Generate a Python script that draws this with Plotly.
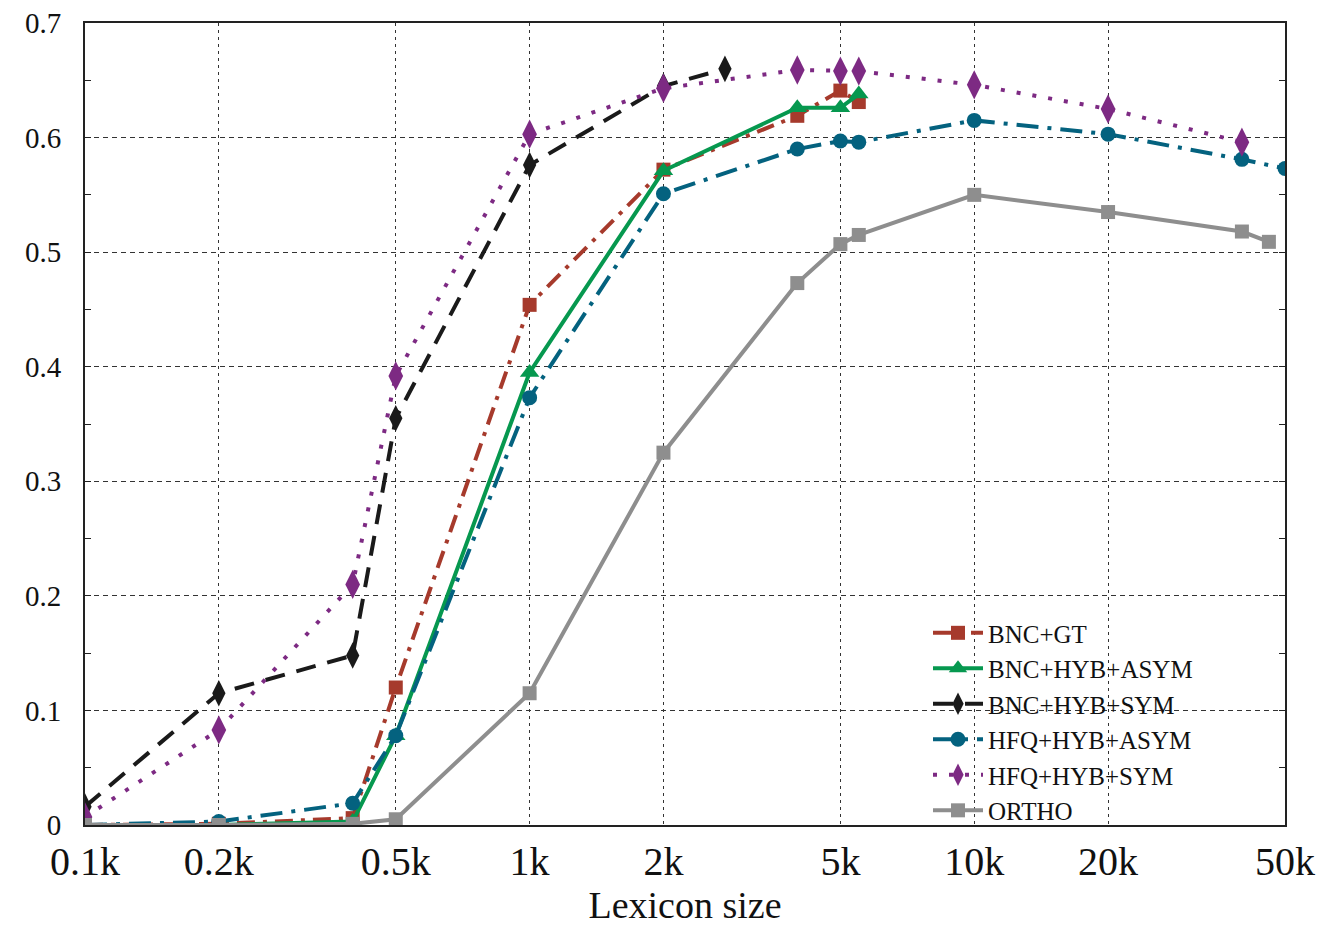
import plotly.graph_objects as go

# Data (lexicon size in words, score)
bnc_gt_x = [100, 200, 400, 500, 1000, 2000, 4000, 5000, 5500]
bnc_gt_y = [0.0, 0.001, 0.006, 0.120, 0.454, 0.572, 0.619, 0.641, 0.631]

bnc_asym_x = [100, 200, 400, 500, 1000, 2000, 4000, 5000, 5500]
bnc_asym_y = [0.0, 0.0, 0.003, 0.078, 0.395, 0.571, 0.626, 0.626, 0.638]

bnc_sym_x = [100, 200, 400, 500, 1000, 2000, 2750]
bnc_sym_y = [0.016, 0.115, 0.148, 0.355, 0.576, 0.645, 0.660]

hfq_asym_x = [100, 200, 400, 500, 1000, 2000, 4000, 5000, 5500, 10000, 20000, 40000, 50000]
hfq_asym_y = [0.0, 0.003, 0.019, 0.078, 0.373, 0.551, 0.590, 0.597, 0.596, 0.615, 0.603, 0.581, 0.573]

hfq_sym_x = [100, 200, 400, 500, 1000, 2000, 4000, 5000, 5500, 10000, 20000, 40000]
hfq_sym_y = [0.007, 0.083, 0.210, 0.392, 0.603, 0.643, 0.659, 0.658, 0.658, 0.646, 0.625, 0.596]

ortho_x = [100, 200, 400, 500, 1000, 2000, 4000, 5000, 5500, 10000, 20000, 40000, 46000]
ortho_y = [0.0, 0.0, 0.001, 0.005, 0.115, 0.325, 0.473, 0.507, 0.515, 0.550, 0.535, 0.518, 0.509]

x_tickvals = [100, 200, 500, 1000, 2000, 5000, 10000, 20000, 50000]
x_ticktext = ["0.1k", "0.2k", "0.5k", "1k", "2k", "5k", "10k", "20k", "50k"]
y_tickvals = [0, 0.1, 0.2, 0.3, 0.4, 0.5, 0.6, 0.7]
y_ticktext = ["0", "0.1", "0.2", "0.3", "0.4", "0.5", "0.6", "0.7"]

FONT = "Liberation Serif"

series = [
    ("BNC+GT", bnc_gt_x, bnc_gt_y, "#a63a2c", "18px,8px,4px,8px", "square", 14),
    ("BNC+HYB+ASYM", bnc_asym_x, bnc_asym_y, "#06984f", "solid", "triangle-up", 17),
    ("BNC+HYB+SYM", bnc_sym_x, bnc_sym_y, "#1a1a1a", "20px,12px", "diamond-tall", 19),
    ("HFQ+HYB+ASYM", hfq_asym_x, hfq_asym_y, "#04627f", "22px,9px,4px,9px", "circle", 15),
    ("HFQ+HYB+SYM", hfq_sym_x, hfq_sym_y, "#7d2a83", "4px,12px", "diamond-tall", 21),
    ("ORTHO", ortho_x, ortho_y, "#8e8e8e", "solid", "square", 14),
]

fig = go.Figure()
for name, xs, ys, color, dash, symbol, size in series:
    fig.add_trace(go.Scatter(
        x=xs, y=ys, name=name, mode="lines+markers",
        line=dict(color=color, width=4, dash=dash),
        marker=dict(color=color, symbol=symbol, size=size, line=dict(width=0)),
    ))

fig.update_layout(
    width=1327, height=933,
    margin=dict(l=77, r=50, t=15, b=116),
    plot_bgcolor="white", paper_bgcolor="white",
    font=dict(family=FONT, color="#111111"),
    showlegend=True,
    legend=dict(
        x=0.7025, y=0.268, xanchor="left", yanchor="top",
        bgcolor="rgba(0,0,0,0)", font=dict(size=25, family=FONT, color="#111111"),
        itemwidth=50, tracegroupgap=0,
    ),
    xaxis=dict(
        type="log", range=[2, 4.69897], automargin=False,
        tickvals=x_tickvals, ticktext=x_ticktext, ticklabeloverflow="allow",
        tickfont=dict(size=40, family=FONT),
        showgrid=True, gridcolor="#333333", gridwidth=1, griddash="3px,4px",
        showline=True, linecolor="#222222", linewidth=2, mirror=True,
        ticks="inside", ticklen=0, zeroline=False, ticklabelstandoff=0,
        title=dict(text="Lexicon size", font=dict(size=38, family=FONT), standoff=6),
    ),
    yaxis=dict(
        range=[0, 0.7], automargin=False,
        tickvals=y_tickvals, ticktext=y_ticktext, ticklabeloverflow="allow",
        tickfont=dict(size=29, family=FONT),
        showgrid=True, gridcolor="#333333", gridwidth=1, griddash="5px,4px",
        showline=True, linecolor="#222222", linewidth=2, mirror="allticks",
        ticks="inside", ticklen=6, tickcolor="#222222", zeroline=False,
        ticklabelstandoff=16,
        minor=dict(dtick=0.05, ticks="inside", ticklen=6, tickcolor="#222222", showgrid=False),
    ),
)

fig.write_html("out.html")
